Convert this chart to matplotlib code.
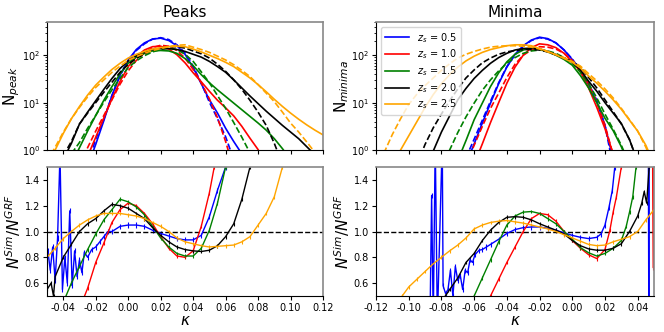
import numpy as np
import matplotlib
matplotlib.use("Agg")
import matplotlib.pyplot as plt

nan = np.nan

# source redshifts and colours
z_src = ["0.5", "1.0", "1.5", "2.0", "2.5"]
colors = ["blue", "red", "green", "black", "orange"]

# ---- top panels: log10 of counts ----
kappa_pk = [-0.05, -0.045, -0.04, -0.035, -0.03, -0.025, -0.02, -0.015, -0.01, -0.005,
            0.0, 0.005, 0.01, 0.015, 0.02, 0.025, 0.03, 0.035, 0.04, 0.045,
            0.05, 0.055, 0.06, 0.065, 0.07, 0.075, 0.08, 0.085, 0.09, 0.095,
            0.10, 0.105, 0.11, 0.115, 0.12]

logn_pk_sim_05 = [nan, nan, nan, nan, nan, -0.35, 0.12, 0.62, 1.15, 1.58, 1.90, 2.12, 2.26, 2.34, 2.36, 2.31, 2.20, 2.02,
                  1.74, 1.40, 1.06, 0.78, 0.46, 0.18, -0.08, nan, nan, nan, nan, nan, nan, nan, nan, nan, nan]
logn_pk_grf_05 = [nan, nan, nan, nan, nan, -0.3, 0.23, 0.65, 1.15, 1.57, 1.88, 2.10, 2.24, 2.34, 2.37, 2.33, 2.22, 2.05,
                  1.77, 1.41, 1.01, 0.66, 0.28, -0.2, nan, nan, nan, nan, nan, nan, nan, nan, nan, nan, nan]
logn_pk_sim_10 = [nan, nan, nan, nan, nan, -0.13, 0.27, 0.68, 1.08, 1.45, 1.76, 1.97, 2.11, 2.18, 2.19, 2.13, 2.01, 1.84,
                  1.63, 1.44, 1.24, 1.05, 0.89, 0.72, 0.50, 0.25, 0.01, -0.3, nan, nan, nan, nan, nan, nan, nan]
logn_pk_grf_10 = [nan, nan, nan, nan, -0.3, 0.05, 0.40, 0.73, 1.06, 1.39, 1.67, 1.89, 2.05, 2.16, 2.21, 2.19, 2.10, 1.94,
                  1.70, 1.42, 1.08, 0.68, 0.18, -0.4, nan, nan, nan, nan, nan, nan, nan, nan, nan, nan, nan]
logn_pk_sim_15 = [nan, nan, nan, -0.3, 0.05, 0.40, 0.73, 1.05, 1.34, 1.61, 1.83, 1.96, 2.04, 2.09, 2.10, 2.09, 2.04, 1.93,
                  1.78, 1.59, 1.42, 1.27, 1.13, 0.99, 0.85, 0.71, 0.57, 0.42, 0.24, 0.03, -0.2, nan, nan, nan, nan]
logn_pk_grf_15 = [nan, nan, -0.4, -0.08, 0.16, 0.46, 0.73, 1.01, 1.27, 1.51, 1.74, 1.88, 1.99, 2.07, 2.12, 2.15, 2.12, 2.02,
                  1.87, 1.65, 1.42, 1.15, 0.88, 0.58, 0.27, -0.06, nan, nan, nan, nan, nan, nan, nan, nan, nan]
logn_pk_sim_20 = [nan, nan, -0.2, 0.14, 0.55, 0.80, 1.04, 1.28, 1.51, 1.72, 1.88, 1.99, 2.07, 2.12, 2.14, 2.14, 2.12, 2.08,
                  2.02, 1.96, 1.87, 1.76, 1.64, 1.48, 1.31, 1.14, 0.98, 0.82, 0.67, 0.52, 0.38, 0.24, 0.07, -0.1, nan]
logn_pk_grf_20 = [nan, nan, -0.12, 0.18, 0.55, 0.78, 1.00, 1.22, 1.43, 1.64, 1.81, 1.93, 2.03, 2.11, 2.15, 2.18, 2.18, 2.15,
                  2.09, 2.03, 1.94, 1.81, 1.66, 1.48, 1.28, 1.05, 0.80, 0.52, 0.14, -0.3, nan, nan, nan, nan, nan]
logn_pk_sim_25 = [-0.35, 0.0, 0.35, 0.66, 0.92, 1.16, 1.37, 1.54, 1.70, 1.83, 1.94, 2.02, 2.08, 2.13, 2.16, 2.18, 2.19, 2.18,
                  2.13, 2.07, 2.00, 1.93, 1.85, 1.76, 1.64, 1.52, 1.38, 1.23, 1.07, 0.92, 0.78, 0.65, 0.53, 0.42, 0.32]
logn_pk_grf_25 = [-0.25, 0.06, 0.375, 0.66, 0.90, 1.12, 1.32, 1.48, 1.64, 1.77, 1.89, 1.97, 2.04, 2.10, 2.14, 2.18, 2.21, 2.22,
                  2.17, 2.12, 2.06, 1.98, 1.90, 1.80, 1.68, 1.55, 1.38, 1.20, 1.02, 0.80, 0.57, 0.38, 0.17, -0.05, -0.3]

kappa_mn = [-0.12, -0.115, -0.11, -0.105, -0.10, -0.095, -0.09, -0.085, -0.08, -0.075,
            -0.07, -0.065, -0.06, -0.055, -0.05, -0.045, -0.04, -0.035, -0.03, -0.025,
            -0.02, -0.015, -0.01, -0.005, 0.0, 0.005, 0.01, 0.015, 0.02, 0.025,
            0.03, 0.035, 0.04, 0.045, 0.05]

logn_mn_sim_05 = [nan, nan, nan, nan, nan, nan, nan, nan, nan, nan, nan, -0.3, 0.13, 0.57, 0.99, 1.40, 1.75, 2.02,
                  2.20, 2.32, 2.38, 2.35, 2.26, 2.11, 1.91, 1.66, 1.38, 1.02, 0.52, -0.2, nan, nan, nan, nan, nan]
logn_mn_grf_05 = [nan, nan, nan, nan, nan, nan, nan, nan, nan, nan, nan, -0.16, 0.23, 0.63, 1.03, 1.42, 1.76, 2.01,
                  2.19, 2.31, 2.37, 2.34, 2.26, 2.11, 1.92, 1.68, 1.40, 1.05, 0.52, -0.35, nan, nan, nan, nan, nan]
logn_mn_sim_10 = [nan, nan, nan, nan, nan, nan, nan, nan, nan, nan, nan, nan, -0.3, 0.13, 0.58, 1.00, 1.41, 1.75,
                  2.00, 2.16, 2.24, 2.22, 2.16, 2.04, 1.86, 1.65, 1.31, 0.90, 0.45, -0.08, -0.6, nan, nan, nan, nan]
logn_mn_grf_10 = [nan, nan, nan, nan, nan, nan, nan, nan, nan, nan, nan, -0.3, 0.10, 0.50, 0.88, 1.20, 1.53, 1.81,
                  2.00, 2.11, 2.18, 2.17, 2.13, 2.04, 1.89, 1.71, 1.40, 1.00, 0.52, -0.1, nan, nan, nan, nan, nan]
logn_mn_sim_15 = [nan, nan, nan, nan, nan, nan, nan, nan, nan, nan, -0.22, 0.20, 0.64, 0.99, 1.34, 1.63, 1.86, 2.02,
                  2.11, 2.15, 2.13, 2.07, 2.00, 1.91, 1.79, 1.57, 1.31, 1.00, 0.67, 0.41, 0.07, -0.35, nan, nan, nan]
logn_mn_grf_15 = [nan, nan, nan, nan, nan, nan, nan, nan, -0.35, 0.0, 0.37, 0.70, 0.99, 1.26, 1.48, 1.67, 1.83, 1.95,
                  2.04, 2.09, 2.11, 2.09, 2.04, 1.95, 1.83, 1.64, 1.40, 1.10, 0.76, 0.44, 0.10, -0.3, nan, nan, nan]
logn_mn_sim_20 = [nan, nan, nan, nan, nan, nan, -0.35, -0.02, 0.38, 0.72, 1.06, 1.30, 1.51, 1.68, 1.83, 1.95, 2.04, 2.11,
                  2.14, 2.15, 2.13, 2.08, 2.01, 1.94, 1.85, 1.69, 1.45, 1.24, 1.00, 0.78, 0.56, 0.22, -0.25, nan, nan]
logn_mn_grf_20 = [nan, nan, nan, nan, nan, -0.3, 0.12, 0.47, 0.76, 1.04, 1.29, 1.52, 1.69, 1.84, 1.94, 2.02, 2.07, 2.10,
                  2.12, 2.12, 2.11, 2.07, 2.01, 1.94, 1.87, 1.75, 1.53, 1.31, 1.06, 0.81, 0.55, 0.22, -0.25, nan, nan]
logn_mn_sim_25 = [nan, nan, -0.35, 0.0, 0.30, 0.60, 0.90, 1.17, 1.40, 1.59, 1.75, 1.88, 1.98, 2.06, 2.12, 2.16, 2.20, 2.22,
                  2.22, 2.20, 2.14, 2.08, 2.01, 1.93, 1.85, 1.73, 1.56, 1.41, 1.24, 1.06, 0.86, 0.63, 0.40, 0.10, -0.3]
logn_mn_grf_25 = [-0.4, -0.05, 0.33, 0.66, 0.96, 1.18, 1.36, 1.52, 1.68, 1.82, 1.94, 2.02, 2.08, 2.13, 2.17, 2.19, 2.20, 2.20,
                  2.19, 2.17, 2.13, 2.07, 2.01, 1.95, 1.87, 1.77, 1.61, 1.46, 1.29, 1.10, 0.88, 0.64, 0.40, 0.06, -0.35]

# ---- bottom panels: ratio Sim / GRF ----
rk_pk_05 = [-0.0495, -0.048, -0.0465, -0.045, -0.0435, -0.042, -0.0405, -0.039, -0.0375, -0.036, -0.0345, -0.033,
            -0.0315, -0.03, -0.0285, -0.027, -0.025, -0.0225, -0.02, -0.0175, -0.015, -0.0125, -0.01, -0.005, 0.0,
            0.005, 0.01, 0.015, 0.02, 0.025, 0.03, 0.035, 0.04, 0.045, 0.05, 0.055, 0.06, 0.062]
r_pk_05 = [0.85, 0.70, 0.88, 0.62, 0.95, 1.60, 0.55, 0.80, 0.60, 1.16, 0.58, 0.85,
           0.65, 0.78, 0.68, 0.84, 0.80, 0.86, 0.88, 0.92, 0.96, 1.00, 1.00, 1.04, 1.05,
           1.05, 1.04, 1.01, 0.985, 0.965, 0.945, 0.935, 0.935, 0.97, 1.115, 1.32, 1.50, 1.80]
rk_pk_10 = [-0.0275, -0.025, -0.02, -0.015, -0.01, -0.005, 0.0, 0.005, 0.01, 0.015, 0.02, 0.025, 0.03, 0.035,
            0.04, 0.045, 0.05, 0.053, 0.056]
r_pk_10 = [0.48, 0.56, 0.76, 0.91, 1.07, 1.17, 1.22, 1.20, 1.14, 1.06, 0.96, 0.87, 0.81, 0.80,
           0.85, 1.04, 1.30, 1.50, 1.80]
rk_pk_15 = [-0.04, -0.035, -0.03, -0.025, -0.02, -0.015, -0.01, -0.005, 0.0, 0.005, 0.01, 0.015, 0.02, 0.025,
            0.03, 0.035, 0.04, 0.045, 0.05, 0.055, 0.06, 0.063]
r_pk_15 = [0.45, 0.60, 0.73, 0.86, 0.98, 1.09, 1.17, 1.25, 1.23, 1.19, 1.13, 1.04, 0.95, 0.88,
           0.83, 0.81, 0.81, 0.87, 1.01, 1.22, 1.50, 1.80]
rk_pk_20 = [-0.05, -0.0475, -0.046, -0.045, -0.04, -0.035, -0.03, -0.025, -0.02, -0.015, -0.01, -0.005, 0.0,
            0.005, 0.01, 0.015, 0.02, 0.025, 0.03, 0.035, 0.04, 0.045, 0.05, 0.055, 0.06, 0.065, 0.07, 0.075, 0.08]
r_pk_20 = [0.55, 0.60, 0.50, 0.65, 0.80, 0.90, 1.00, 1.06, 1.10, 1.16, 1.21, 1.20, 1.18,
           1.14, 1.10, 1.03, 0.97, 0.92, 0.88, 0.86, 0.85, 0.845, 0.855, 0.89, 0.96, 1.06, 1.25, 1.50, 1.80]
rk_pk_25 = [-0.05, -0.045, -0.04, -0.035, -0.03, -0.025, -0.02, -0.015, -0.01, -0.005, 0.0, 0.005, 0.01, 0.015,
            0.02, 0.025, 0.03, 0.035, 0.04, 0.045, 0.05, 0.055, 0.06, 0.065, 0.07, 0.075, 0.08, 0.085, 0.09,
            0.095, 0.10]
r_pk_25 = [0.80, 0.87, 0.945, 1.00, 1.05, 1.09, 1.12, 1.14, 1.14, 1.14, 1.13, 1.12, 1.10, 1.07,
           1.04, 1.00, 0.95, 0.92, 0.905, 0.89, 0.88, 0.885, 0.89, 0.895, 0.92, 0.96, 1.05, 1.14, 1.27,
           1.50, 1.80]

rk_mn_05 = [-0.087, -0.086, -0.085, -0.0838, -0.0825, -0.0795, -0.079, -0.0775, -0.076, -0.0745, -0.073, -0.0715,
            -0.07, -0.0685, -0.067, -0.0655, -0.064, -0.0625, -0.061, -0.0595, -0.057, -0.055, -0.0525, -0.05,
            -0.045, -0.04, -0.035, -0.03, -0.025, -0.02, -0.015, -0.01, -0.005, 0.0, 0.005, 0.01, 0.015, 0.0175,
            0.02, 0.0225, 0.0245, 0.026, 0.027, 0.0465, 0.0468, 0.047]
r_mn_05 = [0.30, 1.28, 0.30, 1.70, 0.30, 1.70, 0.58, 0.52, 0.55, 0.70, 0.50, 0.73,
           0.62, 0.66, 0.55, 0.70, 0.68, 0.78, 0.76, 0.82, 0.855, 0.86, 0.88, 0.90,
           0.94, 0.985, 1.015, 1.03, 1.035, 1.035, 1.025, 1.01, 0.99, 0.97, 0.955, 0.945, 0.955, 0.98,
           1.05, 1.19, 1.32, 1.50, 1.80, 1.80, 0.30, 1.80]
rk_mn_10 = [-0.05, -0.045, -0.04, -0.035, -0.03, -0.025, -0.02, -0.015, -0.01, -0.005, 0.0, 0.005, 0.01, 0.015,
            0.02, 0.023, 0.025, 0.027, 0.03, 0.031, 0.049, 0.0495, 0.05]
r_mn_10 = [0.50, 0.63, 0.76, 0.88, 1.00, 1.10, 1.14, 1.13, 1.08, 1.00, 0.93, 0.87, 0.82, 0.79,
           0.86, 1.01, 1.15, 1.27, 1.50, 1.80, 1.80, 0.72, 1.80]
rk_mn_15 = [-0.06, -0.055, -0.05, -0.045, -0.04, -0.035, -0.03, -0.025, -0.02, -0.015, -0.01, -0.005, 0.0,
            0.005, 0.01, 0.015, 0.02, 0.025, 0.03, 0.033, 0.035, 0.037, 0.039, 0.04]
r_mn_15 = [0.50, 0.64, 0.78, 0.92, 1.05, 1.12, 1.15, 1.155, 1.14, 1.10, 1.06, 1.00, 0.94,
           0.875, 0.835, 0.81, 0.83, 0.87, 0.93, 1.04, 1.15, 1.27, 1.50, 1.80]
rk_mn_20 = [-0.0776, -0.075, -0.07, -0.065, -0.06, -0.055, -0.05, -0.045, -0.04, -0.035, -0.03, -0.025, -0.02,
            -0.015, -0.01, -0.005, 0.0, 0.005, 0.01, 0.015, 0.02, 0.025, 0.03, 0.035, 0.04, 0.0425, 0.044,
            0.0455, 0.047, 0.048]
r_mn_20 = [0.50, 0.55, 0.64, 0.76, 0.83, 0.93, 1.01, 1.07, 1.11, 1.115, 1.11, 1.09, 1.06,
           1.035, 1.01, 0.98, 0.93, 0.89, 0.865, 0.855, 0.855, 0.87, 0.905, 1.00, 1.12, 1.22, 1.31,
           1.22, 1.50, 1.80]
rk_mn_25 = [-0.104, -0.10, -0.095, -0.09, -0.085, -0.08, -0.075, -0.07, -0.065, -0.06, -0.055, -0.05, -0.045,
            -0.04, -0.035, -0.03, -0.025, -0.02, -0.015, -0.01, -0.005, 0.0, 0.005, 0.01, 0.015, 0.02, 0.025,
            0.03, 0.035, 0.04, 0.045, 0.05]
r_mn_25 = [0.50, 0.57, 0.63, 0.69, 0.75, 0.80, 0.85, 0.895, 0.95, 1.02, 1.05, 1.07, 1.08,
           1.085, 1.075, 1.065, 1.05, 1.035, 1.02, 1.00, 0.975, 0.95, 0.925, 0.90, 0.89, 0.895, 0.92,
           0.94, 0.96, 1.00, 1.09, 1.17]

ratio_err = [0.02, 0.015, 0.015, 0.015, 0.015]

pk_sim = [logn_pk_sim_05, logn_pk_sim_10, logn_pk_sim_15, logn_pk_sim_20, logn_pk_sim_25]
pk_grf = [logn_pk_grf_05, logn_pk_grf_10, logn_pk_grf_15, logn_pk_grf_20, logn_pk_grf_25]
mn_sim = [logn_mn_sim_05, logn_mn_sim_10, logn_mn_sim_15, logn_mn_sim_20, logn_mn_sim_25]
mn_grf = [logn_mn_grf_05, logn_mn_grf_10, logn_mn_grf_15, logn_mn_grf_20, logn_mn_grf_25]
pk_rk = [rk_pk_05, rk_pk_10, rk_pk_15, rk_pk_20, rk_pk_25]
pk_r = [r_pk_05, r_pk_10, r_pk_15, r_pk_20, r_pk_25]
mn_rk = [rk_mn_05, rk_mn_10, rk_mn_15, rk_mn_20, rk_mn_25]
mn_r = [r_mn_05, r_mn_10, r_mn_15, r_mn_20, r_mn_25]

fig = plt.figure(figsize=(6.64, 3.32), dpi=100)
ax_tl = fig.add_axes([0.0708, 0.548, 0.4157, 0.3855])
ax_bl = fig.add_axes([0.0708, 0.1084, 0.4157, 0.3886])
ax_tr = fig.add_axes([0.5663, 0.548, 0.4187, 0.3855])
ax_br = fig.add_axes([0.5663, 0.1084, 0.4187, 0.3886])

# counts
for ax, kap, sims, grfs in [(ax_tl, kappa_pk, pk_sim, pk_grf), (ax_tr, kappa_mn, mn_sim, mn_grf)]:
    for i in range(5):
        ax.plot(kap, 10 ** np.array(sims[i]), color=colors[i], lw=1.2,
                label=r"$z_s$ = " + z_src[i])
        ax.plot(kap, 10 ** np.array(grfs[i]), color=colors[i], lw=1.2, ls="--")
    ax.set_yscale("log")
    ax.set_ylim(1, 500)
    ax.tick_params(labelbottom=False)

# ratios
for ax, ks, rs in [(ax_bl, pk_rk, pk_r), (ax_br, mn_rk, mn_r)]:
    for i in range(5):
        ax.errorbar(ks[i], rs[i], yerr=ratio_err[i], color=colors[i], lw=1.0, elinewidth=0.8)
    ax.axhline(1.0, color="black", ls="--", lw=1.0)
    ax.set_ylim(0.5, 1.5)
    ax.set_yticks([0.6, 0.8, 1.0, 1.2, 1.4])
    ax.set_xlabel(r"$\kappa$", fontsize=11, labelpad=0)
    ax.set_ylabel(r"$N^{Sim}/N^{GRF}$", fontsize=11, labelpad=1)

for ax in [ax_tl, ax_bl]:
    ax.set_xlim(-0.05, 0.12)
    ax.set_xticks(np.arange(-0.04, 0.121, 0.02))
for ax in [ax_tr, ax_br]:
    ax.set_xlim(-0.12, 0.05)
    ax.set_xticks(np.arange(-0.12, 0.041, 0.02))

for ax in [ax_tl, ax_bl, ax_tr, ax_br]:
    ax.tick_params(labelsize=7, pad=2, length=3)
    ax.tick_params(which="minor", length=1.8)
    for s in ["top", "right"]:
        ax.spines[s].set_color("#888888")
        ax.spines[s].set_linewidth(1.2)

ax_bl.set_xticklabels(["%.2f" % v for v in np.arange(-0.04, 0.121, 0.02)])
ax_br.set_xticklabels(["%.2f" % v if abs(v) > 1e-9 else "0.00" for v in np.arange(-0.12, 0.041, 0.02)])

ax_tl.set_title("Peaks", fontsize=11, pad=4)
ax_tr.set_title("Minima", fontsize=11, pad=4)
ax_tl.set_ylabel(r"N$_{peak}$", fontsize=11, labelpad=0)
ax_tr.set_ylabel(r"N$_{minima}$", fontsize=11, labelpad=0)
ax_tr.legend(loc="upper left", fontsize=7, handlelength=2.5, labelspacing=0.3, borderpad=0.4)

fig.savefig("out.png", dpi=100)
